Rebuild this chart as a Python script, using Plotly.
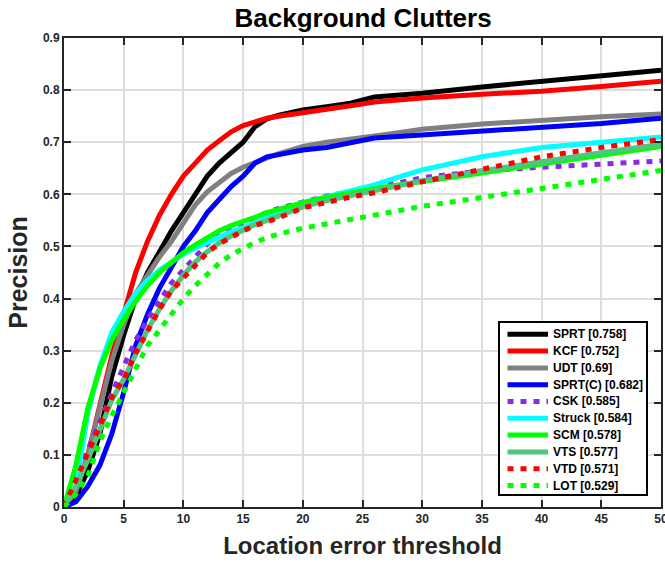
import plotly.graph_objects as go

# Location error thresholds (pixels) at which precision is sampled
thresholds = [0, 1, 2, 3, 4, 5, 6, 7, 8, 9, 10, 11, 12, 13, 14, 15, 16, 17, 18,
              20, 22, 24, 26, 28, 30, 35, 40, 45, 50]

sprt = [0, 0.02, 0.07, 0.14, 0.25, 0.33, 0.40, 0.45, 0.49, 0.53, 0.565, 0.60, 0.635, 0.66, 0.68,
        0.70, 0.73, 0.745, 0.752, 0.762, 0.768, 0.775, 0.787, 0.79, 0.794, 0.806, 0.817, 0.828, 0.838]
kcf = [0, 0.03, 0.10, 0.20, 0.29, 0.37, 0.45, 0.51, 0.56, 0.60, 0.635, 0.66, 0.685, 0.703, 0.72,
       0.732, 0.74, 0.746, 0.75, 0.756, 0.763, 0.77, 0.777, 0.781, 0.785, 0.792, 0.798, 0.807, 0.817]
udt = [0, 0.03, 0.10, 0.19, 0.28, 0.35, 0.41, 0.445, 0.48, 0.51, 0.545, 0.58, 0.605, 0.622, 0.64,
       0.652, 0.662, 0.67, 0.678, 0.692, 0.70, 0.707, 0.712, 0.718, 0.725, 0.735, 0.743, 0.749, 0.754]
sprt_c = [0, 0.01, 0.04, 0.08, 0.14, 0.22, 0.31, 0.37, 0.42, 0.46, 0.50, 0.53, 0.565, 0.59, 0.615,
          0.635, 0.66, 0.672, 0.677, 0.685, 0.69, 0.698, 0.708, 0.711, 0.714, 0.722, 0.729, 0.736, 0.746]
csk = [0, 0.06, 0.11, 0.165, 0.22, 0.27, 0.32, 0.36, 0.395, 0.43, 0.455, 0.48, 0.505, 0.522, 0.535,
       0.545, 0.556, 0.565, 0.573, 0.586, 0.597, 0.605, 0.613, 0.622, 0.632, 0.645, 0.652, 0.657, 0.664]
struck = [0, 0.04, 0.18, 0.27, 0.335, 0.375, 0.41, 0.435, 0.455, 0.47, 0.485, 0.497, 0.508, 0.518, 0.528,
          0.536, 0.545, 0.555, 0.565, 0.584, 0.596, 0.607, 0.618, 0.633, 0.647, 0.672, 0.69, 0.70, 0.71]
scm = [0, 0.08, 0.19, 0.265, 0.32, 0.36, 0.395, 0.425, 0.45, 0.47, 0.488, 0.503, 0.517, 0.53, 0.54,
       0.547, 0.556, 0.565, 0.572, 0.584, 0.594, 0.603, 0.611, 0.618, 0.624, 0.641, 0.658, 0.675, 0.692]
vts = [0, 0.04, 0.09, 0.15, 0.205, 0.245, 0.295, 0.34, 0.38, 0.415, 0.445, 0.47, 0.49, 0.507, 0.52,
       0.532, 0.542, 0.55, 0.558, 0.576, 0.588, 0.598, 0.607, 0.616, 0.626, 0.645, 0.663, 0.68, 0.696]
vtd = [0, 0.05, 0.10, 0.155, 0.21, 0.245, 0.295, 0.34, 0.38, 0.415, 0.44, 0.465, 0.488, 0.505, 0.518,
       0.53, 0.54, 0.548, 0.555, 0.574, 0.585, 0.595, 0.603, 0.614, 0.624, 0.648, 0.672, 0.69, 0.705]
lot = [0, 0.025, 0.06, 0.125, 0.175, 0.22, 0.265, 0.31, 0.34, 0.37, 0.40, 0.425, 0.447, 0.468, 0.484,
       0.497, 0.508, 0.517, 0.524, 0.535, 0.543, 0.551, 0.559, 0.568, 0.577, 0.594, 0.612, 0.628, 0.646]

names = ["SPRT [0.758]", "KCF [0.752]", "UDT [0.69]", "SPRT(C) [0.682]", "CSK [0.585]",
         "Struck [0.584]", "SCM [0.578]", "VTS [0.577]", "VTD [0.571]", "LOT [0.529]"]
series = [sprt, kcf, udt, sprt_c, csk, struck, scm, vts, vtd, lot]
colors = ["#000000", "#FF0000", "#808080", "#0000FF", "#8A2BE2",
          "#00FFFF", "#00FF00", "#4CC77D", "#FF0000", "#00FF00"]
dashes = ["solid", "solid", "solid", "solid", "6px,7px",
          "solid", "solid", "solid", "6px,7px", "6px,7px"]

FONT = "Liberation Sans, Arial, sans-serif"
AXIS = "#262626"

# figure / plot-area geometry in pixels
W, H = 665, 564
ML, MR, MT, MB = 64, 4, 38, 57
PW, PH = W - ML - MR, H - MT - MB


def px_x(p):
    return (p - ML) / PW


def px_y(p):
    return (H - MB - p) / PH


fig = go.Figure()
for name, ys, col, dash in zip(names, series, colors, dashes):
    fig.add_trace(go.Scatter(
        x=thresholds, y=ys, mode="lines", name=name, showlegend=False,
        line=dict(color=col, width=5, dash=dash),
    ))

# MATLAB-style boxed legend in the lower-right corner of the axes
shapes = [dict(type="rect", xref="paper", yref="paper", layer="above",
               x0=px_x(499), x1=px_x(647), y0=px_y(495), y1=px_y(322),
               fillcolor="white", line=dict(color="black", width=2))]
annotations = []
row0, row_step = 334.3, 16.8
for i, (name, col, dash) in enumerate(zip(names, colors, dashes)):
    yc = px_y(row0 + i * row_step)
    shapes.append(dict(type="line", xref="paper", yref="paper", layer="above",
                       x0=px_x(507.5), x1=px_x(548), y0=yc, y1=yc,
                       line=dict(color=col, width=5, dash=dash)))
    annotations.append(dict(xref="paper", yref="paper", x=px_x(551), y=yc,
                            xanchor="left", yanchor="middle", showarrow=False,
                            text=name, font=dict(family=FONT, size=12, color="black", weight="bold")))

axis_common = dict(
    showline=True, linecolor=AXIS, linewidth=2, mirror="ticks",
    ticks="inside", ticklen=7, tickwidth=2, tickcolor=AXIS,
    showgrid=True, gridcolor="#DEDEDE", gridwidth=2, zeroline=False,
    tickfont=dict(family=FONT, size=12, color=AXIS, weight="bold"),
    ticklabeloverflow="allow", automargin=False,
)

fig.update_layout(
    width=W, height=H,
    margin=dict(l=ML, r=MR, t=MT, b=MB, autoexpand=False),
    paper_bgcolor="white", plot_bgcolor="white",
    title=dict(text="Background Clutters", x=0.546, xanchor="center", y=0.968, yanchor="middle",
               font=dict(family=FONT, size=26, color="black", weight="bold")),
    xaxis=dict(range=[0, 50], tickvals=list(range(0, 51, 5)),
               title=dict(text="Location error threshold", standoff=12,
                          font=dict(family=FONT, size=24, color=AXIS, weight="bold")),
               **axis_common),
    yaxis=dict(range=[0, 0.9], tickvals=[i / 10 for i in range(10)],
               ticktext=["0"] + [f"{i / 10:.1f}" for i in range(1, 10)],
               title=dict(text="Precision", standoff=8,
                          font=dict(family=FONT, size=25, color=AXIS, weight="bold")),
               **axis_common),
    shapes=shapes,
    annotations=annotations,
    showlegend=False,
)

fig.write_html("out.html")
